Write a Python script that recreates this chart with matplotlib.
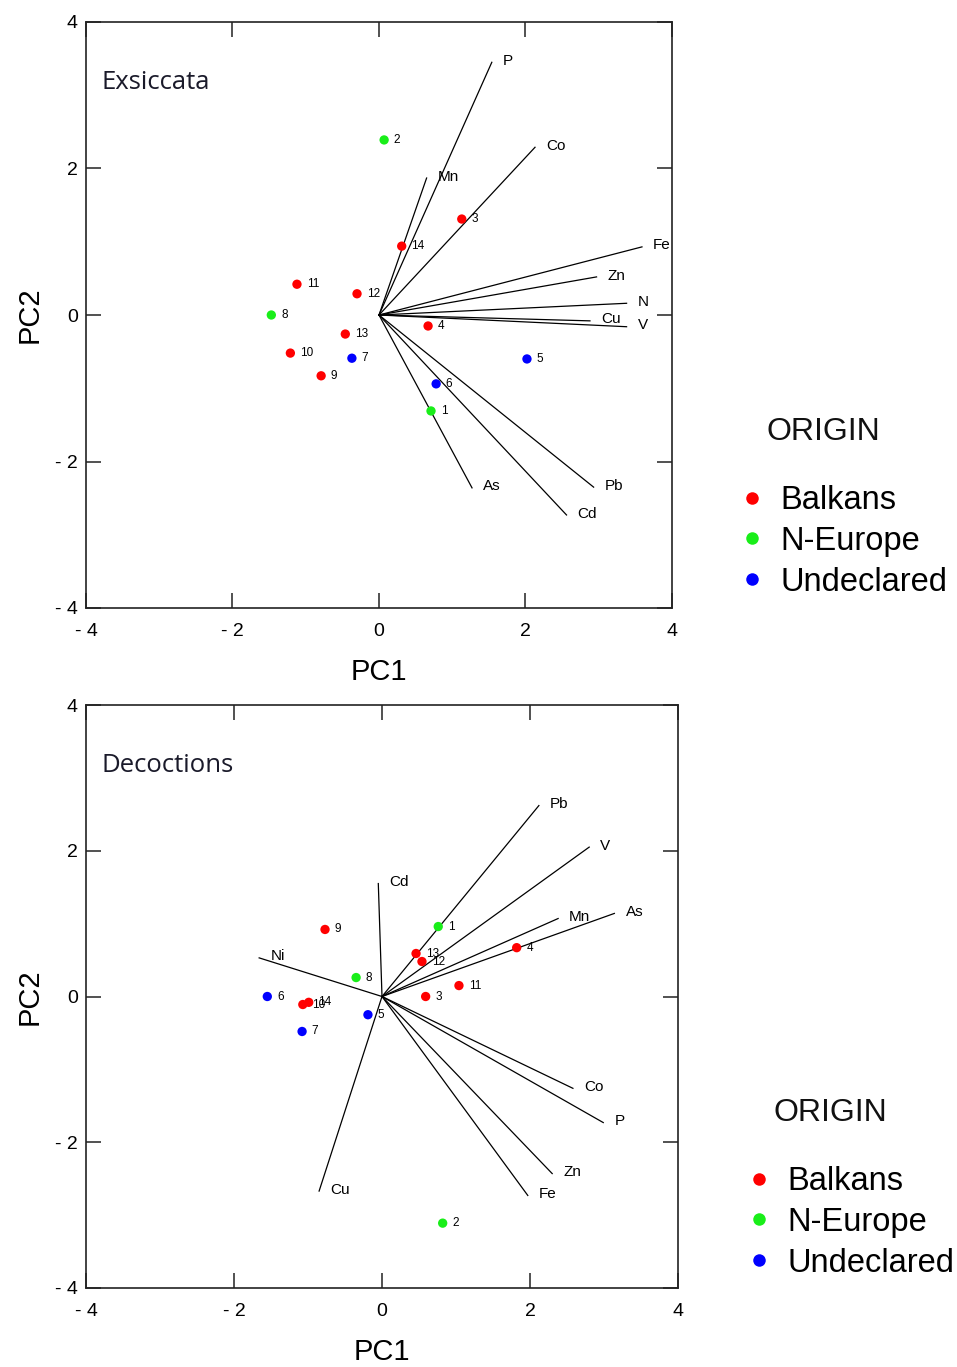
import matplotlib
matplotlib.use("Agg")
import matplotlib.pyplot as plt
from matplotlib.lines import Line2D

# ---------------- data ----------------
origin_names = ['Balkans', 'N-Europe', 'Undeclared']
origin_colors = {'Balkans': '#ff0000', 'N-Europe': '#19ee19', 'Undeclared': '#0000ff'}

# Exsiccata (top)
ex_samples = ['1', '2', '3', '4', '5', '6', '7', '8', '9', '10', '11', '12', '13', '14']
ex_pc1 = [0.71, 0.07, 1.13, 0.67, 2.02, 0.78, -0.37, -1.47, -0.79, -1.21, -1.12, -0.30, -0.46, 0.31]
ex_pc2 = [-1.31, 2.39, 1.31, -0.15, -0.60, -0.94, -0.59, 0.00, -0.83, -0.52, 0.42, 0.29, -0.26, 0.94]
ex_origin = ['N-Europe', 'N-Europe', 'Balkans', 'Balkans', 'Undeclared', 'Undeclared', 'Undeclared',
             'N-Europe', 'Balkans', 'Balkans', 'Balkans', 'Balkans', 'Balkans', 'Balkans']
ex_vars = ['P', 'Co', 'Mn', 'Fe', 'Zn', 'N', 'Cu', 'V', 'Pb', 'Cd', 'As']
ex_load1 = [1.54, 2.13, 0.65, 3.59, 2.97, 3.38, 2.88, 3.38, 2.93, 2.56, 1.27]
ex_load2 = [3.45, 2.29, 1.87, 0.93, 0.52, 0.16, -0.08, -0.16, -2.35, -2.73, -2.36]

# Decoctions (bottom)
de_samples = ['1', '2', '3', '4', '5', '6', '7', '8', '9', '10', '11', '12', '13', '14']
de_pc1 = [0.76, 0.82, 0.59, 1.82, -0.19, -1.55, -1.08, -0.35, -0.77, -1.07, 1.04, 0.54, 0.46, -0.99]
de_pc2 = [0.96, -3.11, 0.00, 0.67, -0.25, 0.00, -0.48, 0.26, 0.92, -0.11, 0.15, 0.48, 0.59, -0.08]
de_origin = ['N-Europe', 'N-Europe', 'Balkans', 'Balkans', 'Undeclared', 'Undeclared', 'Undeclared',
             'N-Europe', 'Balkans', 'Balkans', 'Balkans', 'Balkans', 'Balkans', 'Balkans']
de_vars = ['Pb', 'V', 'Mn', 'As', 'Cd', 'Ni', 'Co', 'P', 'Zn', 'Fe', 'Cu']
de_load1 = [2.12, 2.80, 2.38, 3.14, -0.05, -1.66, 2.58, 2.99, 2.30, 1.97, -0.85]
de_load2 = [2.62, 2.05, 1.07, 1.14, 1.55, 0.53, -1.26, -1.73, -2.43, -2.73, -2.67]

tick_values = [-4, -2, 0, 2, 4]
tick_labels = ['- 4', '- 2', '0', '2', '4']

# ---------------- figure ----------------
fig = plt.figure(figsize=(9.57, 13.67), dpi=100)
W, H = 957, 1367


def fx(px):
    return px / W


def fy(py):
    return 1 - py / H


sans = ['Liberation Sans', 'DejaVu Sans']


def draw_panel(ax, title, samples, pc1, pc2, origin, vars_, l1, l2):
    for v, a, b in zip(vars_, l1, l2):
        ax.plot([0, a], [0, b], color='black', lw=0.9, zorder=2)
        ax.annotate(v, (a, b), xytext=(8, 1), textcoords='offset points',
                    ha='left', va='center', fontsize=11, family=sans, zorder=4)
    cols = [origin_colors[o] for o in origin]
    ax.scatter(pc1, pc2, c=cols, s=45, zorder=3, linewidths=0)
    for s, a, b in zip(samples, pc1, pc2):
        ax.annotate(s, (a, b), xytext=(7, 0), textcoords='offset points',
                    ha='left', va='center', fontsize=8.5, family=sans, zorder=4)
    ax.set_xlim(-4, 4)
    ax.set_ylim(-4, 4)
    ax.set_xticks(tick_values)
    ax.set_xticklabels(tick_labels, family=sans, fontsize=14)
    ax.set_yticks(tick_values)
    ax.set_yticklabels(tick_labels, family=sans, fontsize=14)
    ax.tick_params(direction='in', length=11, width=1.1, top=True, right=True,
                   color='#222222', pad=11)
    ax.tick_params(axis='y', pad=6)
    for sp in ax.spines.values():
        sp.set_linewidth(1.2)
        sp.set_color('#222222')
    ax.set_xlabel('PC1', family=sans, fontsize=21)
    ax.set_ylabel('PC2', family=sans, fontsize=21)
    ax.xaxis.set_label_coords(0.5, -0.085)
    ax.yaxis.set_label_coords(-0.072, 0.5)
    ax.text(0.027, 0.897, title, transform=ax.transAxes, ha='left', va='center',
            fontsize=18.5, family=['Open Sans', 'DejaVu Sans'], color='#1a1a2a')


ax1 = fig.add_axes([fx(86), fy(608), fx(672) - fx(86), fy(22) - fy(608)])
draw_panel(ax1, 'Exsiccata', ex_samples, ex_pc1, ex_pc2, ex_origin, ex_vars, ex_load1, ex_load2)

ax2 = fig.add_axes([fx(86), fy(1288), fx(678) - fx(86), fy(705) - fy(1288)])
draw_panel(ax2, 'Decoctions', de_samples, de_pc1, de_pc2, de_origin, de_vars, de_load1, de_load2)


def draw_legend(ax, title_xy, anchor):
    handles = [Line2D([], [], ls='none', marker='o', markersize=9, markeredgewidth=0,
                      markerfacecolor=origin_colors[o]) for o in origin_names]
    fig.text(fx(title_xy[0]), fy(title_xy[1]), 'ORIGIN', ha='center', va='center',
             fontsize=23, family=sans, color='#111111')
    leg = fig.legend(handles, origin_names, loc='upper left',
                     bbox_to_anchor=(fx(anchor[0]), fy(anchor[1])),
                     frameon=False, prop={'family': sans, 'size': 23.5},
                     handlelength=0.7, handletextpad=0.5, labelspacing=0.3,
                     borderpad=0, borderaxespad=0)
    return leg


draw_legend(ax1, (823, 432), (741, 485))
draw_legend(ax2, (830, 1113), (748, 1166))

fig.savefig('out.png', dpi=100)
